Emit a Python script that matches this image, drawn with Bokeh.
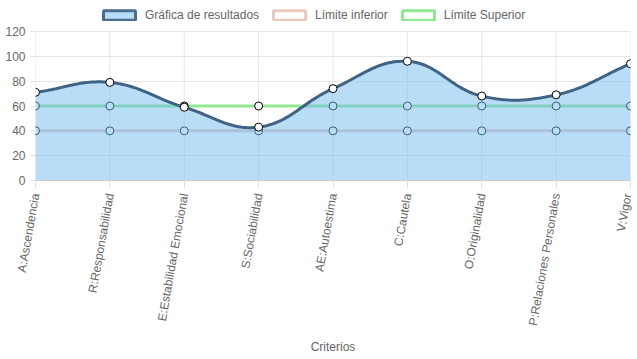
import numpy as np
from bokeh.plotting import figure
from bokeh.models import (ColumnDataSource, Legend, LegendItem, FixedTicker, Range1d)
from bokeh.embed import file_html
from bokeh.resources import INLINE

categories = ["A:Ascendencia", "R:Responsabilidad", "E:Estabilidad Emocional",
              "S:Sociabilidad", "AE:Autoestima", "C:Cautela", "O:Originalidad",
              "P:Relaciones Personales", "V:Vigor"]
resultados = [71, 79, 59, 43, 74, 96, 68, 69, 94]
limite_inferior = [40, 40, 40, 40, 40, 40, 40, 40, 40]
limite_superior = [60, 60, 60, 60, 60, 60, 60, 60, 60]
y_ticks = [0, 20, 40, 60, 80, 100, 120]
Y_MAX = 120

FRAME_W = 595
PLOT_H = 149          # pixel height of the 0..120 data area
TOP_PAD = 26          # extra room above the plot inside the frame for the legend
FRAME_H = PLOT_H + TOP_PAD
xs = list(range(len(categories)))

# Chart.js style bezier spline (tension 0.4) computed in pixel space
sx = FRAME_W / (len(categories) - 1)
sy = PLOT_H / Y_MAX
pts = [(x * sx, y * sy) for x, y in zip(xs, resultados)]
def ctrl(i, t=0.4):
    p1 = pts[i]
    p0 = pts[i - 1] if i > 0 else p1
    p2 = pts[i + 1] if i < len(pts) - 1 else p1
    d01 = np.hypot(p1[0] - p0[0], p1[1] - p0[1])
    d12 = np.hypot(p2[0] - p1[0], p2[1] - p1[1])
    tot = d01 + d12
    s01 = d01 / tot if tot else 0
    s12 = d12 / tot if tot else 0
    fa, fb = t * s01, t * s12
    prev = (p1[0] - fa * (p2[0] - p0[0]), p1[1] - fa * (p2[1] - p0[1]))
    nxt = (p1[0] + fb * (p2[0] - p0[0]), p1[1] + fb * (p2[1] - p0[1]))
    return prev, nxt
ctrls = [ctrl(i) for i in range(len(pts))]
cx, cy = [], []
tt = np.linspace(0, 1, 40)
for i in range(len(pts) - 1):
    P0 = np.array(pts[i]); P3 = np.array(pts[i + 1])
    P1 = np.array(ctrls[i][1]); P2 = np.array(ctrls[i + 1][0])
    seg = ((1 - tt)[:, None] ** 3 * P0 + 3 * ((1 - tt) ** 2 * tt)[:, None] * P1
           + 3 * ((1 - tt) * tt ** 2)[:, None] * P2 + (tt ** 3)[:, None] * P3)
    if i > 0:
        seg = seg[1:]
    cx.extend(seg[:, 0] / sx)
    cy.extend(seg[:, 1] / sy)

p = figure(frame_width=FRAME_W, frame_height=FRAME_H, output_backend="svg",
           toolbar_location=None,
           x_range=Range1d(0, len(categories) - 1),
           y_range=Range1d(0, Y_MAX * FRAME_H / PLOT_H),
           min_border_left=35, min_border_right=4, min_border_top=5,
           min_border_bottom=171)
p.outline_line_color = None
p.background_fill_color = "white"

FONT = "Liberation Sans"
GREY = "#666666"
GRID = "#e6e6e6"

# vertical grid lines limited to the 0..120 data area
p.segment(x0=xs, y0=[0] * len(xs), x1=xs, y1=[Y_MAX] * len(xs),
          line_color=GRID, line_width=1, level="underlay")

# limit lines (drawn first, covered by semi-transparent fill)
p.line(xs, limite_inferior, line_color="#e8cbbf", line_width=3)
p.scatter(xs, limite_inferior, size=8, fill_color="white",
          line_color="black", line_width=1)
p.line(xs, limite_superior, line_color="#90e890", line_width=3)
p.scatter(xs, limite_superior, size=8, fill_color="white",
          line_color="black", line_width=1)

# result fill + line
p.varea(x=cx, y1=[0] * len(cx), y2=cy, fill_color="#73b9ef", fill_alpha=0.5)
p.line(cx, cy, line_color="#3e6384", line_width=3)
p.scatter(xs, resultados, size=8, fill_color="white", line_color="black",
          line_width=1)

# legend proxies (NaN geometry: they draw nothing in the plot)
nan_src = ColumnDataSource(dict(l=[np.nan], r=[np.nan], t=[np.nan], b=[np.nan]))
g1 = p.quad(left="l", right="r", top="t", bottom="b", source=nan_src,
            fill_color="#b9dcf8", line_color="#4a6e8f", line_width=3)
g2 = p.quad(left="l", right="r", top="t", bottom="b", source=nan_src,
            fill_color="white", line_color="#e8cbbf", line_width=3)
g3 = p.quad(left="l", right="r", top="t", bottom="b", source=nan_src,
            fill_color="white", line_color="#90e890", line_width=3)
legend = Legend(items=[LegendItem(label="Gráfica de resultados", renderers=[g1], index=0),
                       LegendItem(label="Límite inferior", renderers=[g2], index=0),
                       LegendItem(label="Límite Superior", renderers=[g3], index=0)],
                orientation="horizontal", location=(64, PLOT_H + 9),
                glyph_width=40, glyph_height=12, label_height=12,
                label_standoff=6, spacing=10, padding=0, margin=0,
                border_line_color=None, background_fill_alpha=0,
                label_text_font=FONT, label_text_font_size="12px",
                label_text_color=GREY)
p.add_layout(legend, "center")

# axes
p.xaxis.ticker = FixedTicker(ticks=xs)
p.xaxis.major_label_overrides = {i: c for i, c in enumerate(categories)}
p.xaxis.major_label_orientation = float(np.deg2rad(80))
p.xaxis.major_label_text_font = FONT
p.xaxis.major_label_text_font_size = "12px"
p.xaxis.major_label_text_color = GREY
p.xaxis.axis_label = "Criterios"
p.xaxis.axis_label_text_font = FONT
p.xaxis.axis_label_text_font_size = "12px"
p.xaxis.axis_label_text_font_style = "normal"
p.xaxis.axis_label_text_color = GREY
p.xaxis.axis_label_standoff = 9
p.xaxis.axis_line_color = "#cccccc"
p.xaxis.major_tick_line_color = "#e0e0e0"
p.xaxis.major_tick_out = 8
p.xaxis.major_tick_in = 0
p.xaxis.minor_tick_line_color = None

p.yaxis.ticker = FixedTicker(ticks=y_ticks)
p.yaxis.major_label_text_font = FONT
p.yaxis.major_label_text_font_size = "12px"
p.yaxis.major_label_text_color = GREY
p.yaxis.axis_line_color = None
p.yaxis.major_tick_line_color = "#e0e0e0"
p.yaxis.major_tick_out = 5
p.yaxis.major_tick_in = 0
p.yaxis.minor_tick_line_color = None
p.yaxis.major_label_standoff = 5

p.xgrid.grid_line_color = None
p.ygrid.grid_line_color = GRID

open("out.html", "w").write(file_html(p, INLINE))
